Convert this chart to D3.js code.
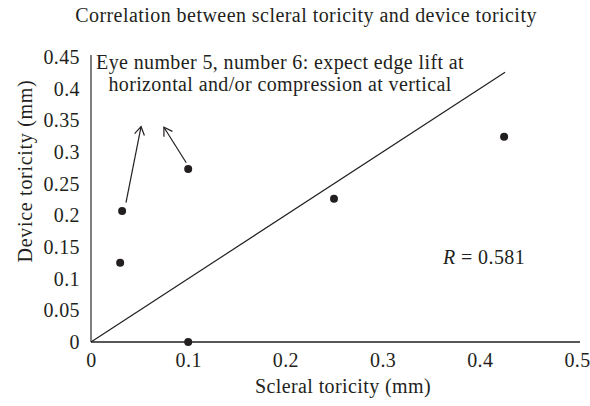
<!DOCTYPE html>
<html>
<head>
<meta charset="utf-8">
<script src="https://cdn.jsdelivr.net/npm/d3@7"></script>
<style>
  body { margin: 0; background: #fff; }
  text { font-family: "Liberation Serif", "DejaVu Serif", serif; fill: #231f20; letter-spacing: 0.4px; }
</style>
</head>
<body>
<div id="chart"></div>
<script>
// data
var scleral = [0.03, 0.032, 0.1, 0.25, 0.425, 0.1];
var device = [0.125, 0.207, 0.273, 0.226, 0.324, 0];
var xTicks = [0, 0.1, 0.2, 0.3, 0.4, 0.5];
var yTicks = [0, 0.05, 0.1, 0.15, 0.2, 0.25, 0.3, 0.35, 0.4, 0.45];
var trendX = [0, 0.426];
var trendY = [0, 0.426];
// arrows: start and tip, in data units
var arrowFrom = [[0.036, 0.22], [0.098, 0.283]];
var arrowTo = [[0.0515, 0.34], [0.075, 0.339]];
var noteLines = ["Eye number 5, number 6: expect edge lift at", "horizontal and/or compression at vertical"];

var width = 590, height = 406;
var ink = "#231f20";
var fs = 20;

var svg = d3.select("#chart")
    .append("svg")
    .attr("width", width)
    .attr("height", height);

// scales
var x = d3.scaleLinear().domain([0, 0.5]).range([91, 577]);
var y = d3.scaleLinear().domain([0, 0.45]).range([342, 57]);

// x axis
var gx = svg.append("g")
    .attr("transform", "translate(0," + y(0) + ")")
    .call(d3.axisBottom(x).tickValues(xTicks).tickSize(0).tickPadding(11)
        .tickFormat(d => d3.format("")(d)));
gx.select(".domain").attr("stroke", ink).attr("stroke-width", 1.5)
    .attr("d", "M" + x(0) + ",0H" + (x(0.5) + 3));
gx.selectAll("text").attr("font-size", fs).attr("font-family", null);

// y axis
var gy = svg.append("g")
    .attr("transform", "translate(" + x(0) + ",0)")
    .call(d3.axisLeft(y).tickValues(yTicks).tickSize(0).tickPadding(11)
        .tickFormat(d => d3.format("")(d)));
gy.select(".domain").attr("stroke", "#555").attr("stroke-width", 1.5)
    .attr("d", "M0," + y(0) + "V" + (y(0.45) - 2));
gy.selectAll("text").attr("font-size", fs).attr("font-family", null);

// trend line
svg.append("line")
    .attr("x1", x(trendX[0])).attr("y1", y(trendY[0]))
    .attr("x2", x(trendX[1])).attr("y2", y(trendY[1]))
    .attr("stroke", ink).attr("stroke-width", 1.2);

// points
svg.append("g")
    .selectAll("circle")
    .data(scleral)
    .join("circle")
    .attr("cx", d => x(d))
    .attr("cy", (d, i) => y(device[i]))
    .attr("r", 4)
    .attr("fill", ink);

// arrow marker
svg.append("defs").append("marker")
    .attr("id", "head")
    .attr("viewBox", "-10 -6 12 12")
    .attr("markerWidth", 12).attr("markerHeight", 12)
    .attr("markerUnits", "userSpaceOnUse")
    .attr("orient", "auto")
    .append("path")
    .attr("d", "M-8,-5L0,0L-8,5")
    .attr("fill", "none")
    .attr("stroke", ink)
    .attr("stroke-width", 1.2);

svg.append("g")
    .selectAll("line")
    .data(arrowFrom)
    .join("line")
    .attr("x1", d => x(d[0])).attr("y1", d => y(d[1]))
    .attr("x2", (d, i) => x(arrowTo[i][0])).attr("y2", (d, i) => y(arrowTo[i][1]))
    .attr("stroke", ink).attr("stroke-width", 1.2)
    .attr("marker-end", "url(#head)");

// title
svg.append("text")
    .attr("x", 306).attr("y", 22)
    .attr("text-anchor", "middle")
    .attr("font-size", fs)
    .style("letter-spacing", "0.45px")
    .text("Correlation between scleral toricity and device toricity");

// note
svg.append("g")
    .selectAll("text")
    .data(noteLines)
    .join("text")
    .attr("x", 280)
    .attr("y", (d, i) => 69 + i * 22)
    .attr("text-anchor", "middle")
    .attr("font-size", fs)
    .style("letter-spacing", "0.38px")
    .text(d => d);

// R value
var r = svg.append("text")
    .attr("x", 443).attr("y", 264)
    .attr("font-size", fs);
r.append("tspan").attr("font-style", "italic").text("R");
r.append("tspan").text(" = 0.581");

// axis titles
svg.append("text")
    .attr("x", 343).attr("y", 393)
    .attr("text-anchor", "middle")
    .attr("font-size", fs)
    .text("Scleral toricity (mm)");

svg.append("text")
    .attr("transform", "translate(32,171) rotate(-90)")
    .attr("text-anchor", "middle")
    .attr("font-size", fs)
    .style("letter-spacing", "0.7px")
    .text("Device  toricity (mm)");
</script>
</body>
</html>
